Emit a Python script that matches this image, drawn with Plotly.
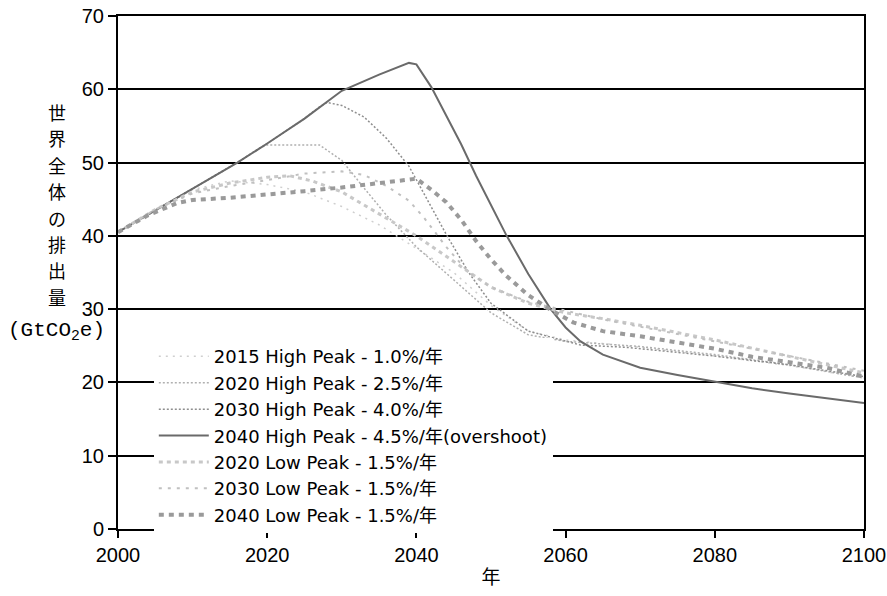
import plotly.graph_objects as go

# ---- data ----
names = [
    "2015 High Peak - 1.0%/年",
    "2020 High Peak - 2.5%/年",
    "2030 High Peak - 4.0%/年",
    "2040 High Peak - 4.5%/年(overshoot)",
    "2020 Low Peak - 1.5%/年",
    "2030 Low Peak - 1.5%/年",
    "2040 Low Peak - 1.5%/年",
]

hp2015_x = [2000, 2005, 2010, 2015, 2020, 2025, 2030, 2035, 2040, 2045, 2050, 2055, 2060, 2070, 2080, 2090, 2100]
hp2015_y = [40.5, 43.5, 46.3, 47.5, 47.0, 46.0, 44.0, 41.5, 38.3, 35.0, 30.5, 27.0, 25.8, 24.8, 23.6, 22.3, 20.6]

hp2020_x = [2000, 2005, 2010, 2016, 2019, 2020, 2027, 2030, 2033, 2036, 2040, 2045, 2050, 2055, 2060, 2070, 2080, 2090, 2100]
hp2020_y = [40.5, 43.5, 46.5, 50.0, 52.0, 52.4, 52.4, 50.3, 46.5, 42.8, 38.5, 34.0, 29.5, 26.5, 25.6, 24.9, 23.8, 22.4, 20.6]

hp2030_x = [2000, 2005, 2010, 2016, 2020, 2025, 2027, 2028, 2030, 2033, 2036, 2039, 2041, 2044, 2047, 2050, 2055, 2062, 2068, 2080, 2090, 2100]
hp2030_y = [40.5, 43.5, 46.5, 50.0, 52.6, 56.0, 57.6, 58.2, 57.8, 56.2, 53.3, 49.5, 45.8, 40.2, 35.0, 30.8, 27.0, 25.1, 24.8, 23.6, 22.4, 20.8]

hp2040_x = [2000, 2005, 2010, 2016, 2020, 2025, 2030, 2035, 2039, 2040, 2042, 2044, 2046, 2048, 2050, 2052, 2055, 2058, 2060, 2062, 2065, 2070, 2075, 2080, 2085, 2090, 2095, 2100]
hp2040_y = [40.5, 43.5, 46.5, 50.0, 52.6, 56.0, 59.8, 62.0, 63.6, 63.4, 60.3, 56.5, 52.5, 48.2, 44.2, 40.2, 34.8, 30.0, 27.5, 25.6, 23.8, 22.0, 21.0, 20.1, 19.2, 18.5, 17.8, 17.2]

lp2020_x = [2000, 2005, 2010, 2015, 2020, 2023, 2026, 2030, 2035, 2040, 2045, 2050, 2055, 2060, 2065, 2070, 2080, 2090, 2100]
lp2020_y = [40.5, 43.6, 46.0, 47.2, 48.0, 48.2, 47.5, 46.0, 43.0, 40.0, 36.5, 33.0, 30.8, 29.5, 28.7, 27.8, 25.8, 23.6, 21.3]

lp2030_x = [2000, 2005, 2010, 2015, 2020, 2025, 2030, 2033, 2036, 2039, 2041, 2044, 2047, 2050, 2055, 2060, 2065, 2070, 2080, 2090, 2100]
lp2030_y = [40.5, 43.6, 45.8, 46.8, 47.6, 48.5, 48.8, 48.3, 46.8, 44.8, 42.5, 38.5, 35.0, 33.0, 31.0, 29.8, 28.6, 27.6, 25.6, 23.6, 21.6]

lp2040_x = [2000, 2004, 2008, 2010, 2015, 2020, 2025, 2030, 2035, 2040, 2042, 2044, 2046, 2048, 2050, 2052, 2055, 2058, 2061, 2065, 2070, 2075, 2080, 2085, 2090, 2095, 2100]
lp2040_y = [40.5, 42.8, 44.5, 44.9, 45.2, 45.6, 46.1, 46.6, 47.2, 47.8, 46.3, 44.6, 42.2, 39.3, 36.8, 34.6, 31.9, 29.9, 28.2, 27.0, 26.3, 25.4, 24.6, 23.5, 22.8, 22.0, 20.8]

x_ticks = [2000, 2020, 2040, 2060, 2080, 2100]
y_ticks = [0, 10, 20, 30, 40, 50, 60, 70]
y_title_chars = ["世", "界", "全", "体", "の", "排", "出", "量"]

series = [
    (hp2015_x, hp2015_y, dict(color="#cfcfcf", width=1.5, dash="2px,5px")),
    (hp2020_x, hp2020_y, dict(color="#b0b0b0", width=1.5, dash="2px,2px")),
    (hp2030_x, hp2030_y, dict(color="#8e8e8e", width=1.5, dash="2px,2px")),
    (hp2040_x, hp2040_y, dict(color="#6a6a6a", width=2, dash="solid")),
    (lp2020_x, lp2020_y, dict(color="#c8c8c8", width=3, dash="4px,4px")),
    (lp2030_x, lp2030_y, dict(color="#c0c0c0", width=2, dash="3px,6px")),
    (lp2040_x, lp2040_y, dict(color="#9a9a9a", width=4, dash="5px,5px")),
]

fig = go.Figure()
for (xs, ys, ln), nm in zip(series, names):
    fig.add_trace(go.Scatter(x=xs, y=ys, mode="lines", name=nm, line=ln))

cjk = "Noto Sans CJK JP"
num_font = "Liberation Sans, Arial, sans-serif"

fig.update_layout(
    width=887, height=596,
    margin=dict(l=118, r=23, t=16, b=67, autoexpand=False),
    paper_bgcolor="white", plot_bgcolor="white",
    showlegend=True,
    legend=dict(
        x=0.048, y=0.372, xanchor="left", yanchor="top",
        bgcolor="white", borderwidth=0,
        font=dict(family="DejaVu Sans, " + cjk, size=18, color="#000"),
        tracegroupgap=0, itemwidth=50,
    ),
    xaxis=dict(
        range=[2000, 2100], tickvals=x_ticks, ticktext=[str(v) for v in x_ticks],
        showgrid=False, zeroline=False, automargin=False,
        ticklabeloverflow="allow",
        showline=True, linecolor="black", linewidth=2, mirror=True,
        ticks="outside", ticklen=7, tickwidth=1.5, tickcolor="black",
        tickfont=dict(family=num_font, size=20, color="#000"),
        title=dict(text="年", font=dict(family=cjk, size=19, color="#000"), standoff=6),
    ),
    yaxis=dict(
        range=[0, 70], tickvals=y_ticks, ticktext=[str(v) for v in y_ticks],
        showgrid=True, gridcolor="black", gridwidth=2,
        zeroline=False, automargin=False,
        ticklabeloverflow="allow",
        showline=True, linecolor="black", linewidth=2, mirror=True,
        ticks="outside", ticklen=8, tickwidth=1.5, tickcolor="black",
        tickfont=dict(family=num_font, size=20, color="#000"),
    ),
    font=dict(family=cjk, color="#000"),
)

# vertical y-axis title, one character per annotation
for i, ch in enumerate(y_title_chars):
    fig.add_annotation(
        text=ch, xref="paper", yref="paper",
        x=(57 - 118) / 746, y=(529 - (112 + i * 26.4)) / 513,
        xanchor="center", yanchor="middle", showarrow=False,
        font=dict(family=cjk, size=18, color="#000"),
    )
fig.add_annotation(
    text="(GtCO<sub>2</sub>e)",
    xref="paper", yref="paper", x=(56 - 118) / 746, y=(529 - 331) / 513,
    xanchor="center", yanchor="middle", showarrow=False,
    font=dict(family="Liberation Mono", size=21, color="#000"),
)

fig.write_html(
    "out.html",
    config={"displayModeBar": False},
    post_script="document.body.style.margin='0';document.body.style.overflow='hidden';",
)
